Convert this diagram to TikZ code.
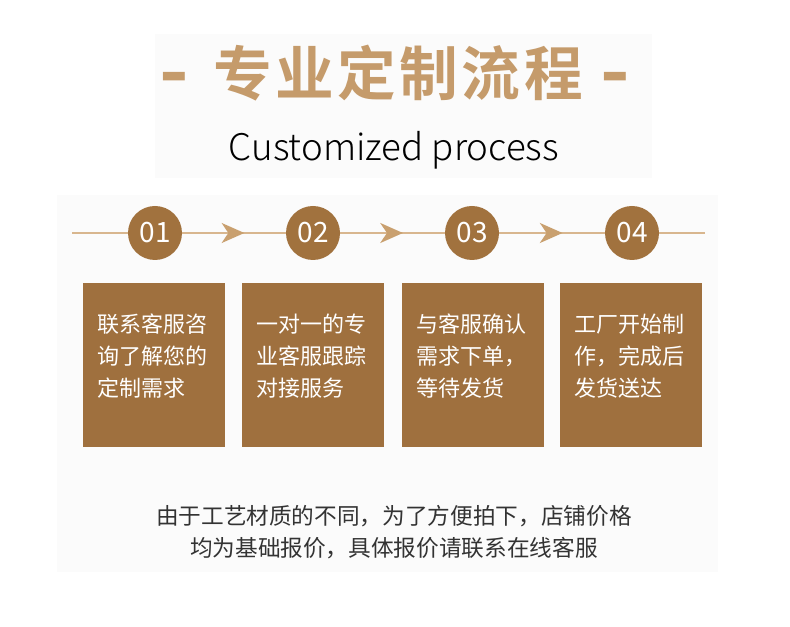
\documentclass[tikz,border=0pt]{standalone}
\usepackage{fontspec}
\setmainfont{Noto Sans CJK SC}
\newfontfamily\titlefont[LetterSpace=6]{Noto Sans CJK SC Bold}
\newfontfamily\lightfont{Noto Sans CJK SC Light}
\usetikzlibrary{arrows.meta,decorations.markings}
\definecolor{titlebrown}{HTML}{C59B6B}
\definecolor{linetan}{HTML}{D8B68E}
\definecolor{arrowtan}{HTML}{C9A06F}
\definecolor{circbrown}{HTML}{A1723E}
\definecolor{boxbrown}{HTML}{9F703E}
\definecolor{panelbg}{HTML}{FBFBFB}
\definecolor{darktext}{HTML}{333333}
\tikzset{
  panel/.style={fill=panelbg, draw=none},
  numcircle/.style={circle, fill=circbrown, draw=none, minimum size=40.5pt, inner sep=0pt,
    text=white, font=\fontsize{21}{21}\selectfont},
  stepbox/.style={fill=boxbrown, draw=none, minimum width=106.5pt, minimum height=123pt, inner sep=0pt},
  boxtext/.style={text=white, align=left, anchor=west, inner sep=0pt,
    font=\fontsize{16.5}{24}\selectfont},
  flow/.style={draw=linetan, line width=1.5pt},
  flowarrow/.style={flow, postaction={decorate}, decoration={markings,
    mark=at position 0.6 with {\arrow[arrowtan]{Stealth[length=17pt,width=15pt,inset=5pt]}}}},
  dashtxt/.style={text=titlebrown, inner sep=0pt, font=\titlefont\fontsize{60}{60}\selectfont},
}
\begin{document}
\begin{tikzpicture}[x=0.75pt,y=-0.75pt]
\useasboundingbox (0,0) rectangle (790,627);
\fill[white] (0,0) rectangle (790,627);
% panels
\path[panel] (155,34) rectangle (652,178);
\path[panel] (57,195) rectangle (718,572);
% title
\node[text=titlebrown, font=\titlefont\fontsize{44}{44}\selectfont] (title) at (398,73) {专业定制流程};
\node[dashtxt, anchor=base] (dashL) at (174,100) {-};
\node[dashtxt, anchor=base] (dashR) at (615,100) {-};
\node[text=black, font=\lightfont\fontsize{27.5}{27.5}\selectfont] (sub) at (394,150) {Customized process};
% flow
\coordinate (start) at (72,233);
\coordinate (end) at (705,233);
\node[numcircle] (c1) at (155,233) {01};
\node[numcircle] (c2) at (313,233) {02};
\node[numcircle] (c3) at (472,233) {03};
\node[numcircle] (c4) at (632,233) {04};
\draw[flow] (start) -- (c1);
\draw[flowarrow] (c1) -- (c2);
\draw[flowarrow] (c2) -- (c3);
\draw[flowarrow] (c3) -- (c4);
\draw[flow] (c4) -- (end);
% boxes
\node[stepbox] (b1) at (154,365) {};
\node[stepbox] (b2) at (313,365) {};
\node[stepbox] (b3) at (473,365) {};
\node[stepbox] (b4) at (631,365) {};
\node[boxtext] (t1) at (97,356) {联系客服咨\\询了解您的\\定制需求};
\node[boxtext] (t2) at (256,356) {一对一的专\\业客服跟踪\\对接服务};
\node[boxtext] (t3) at (416,356) {与客服确认\\需求下单，\\等待发货};
\node[boxtext] (t4) at (574,356) {工厂开始制\\作，完成后\\发货送达};
% note
\node[text=darktext, align=center, font=\fontsize{17}{23.5}\selectfont] (note) at (394,532)
  {由于工艺材质的不同，为了方便拍下，店铺价格\\均为基础报价，具体报价请联系在线客服};
\end{tikzpicture}
\end{document}
